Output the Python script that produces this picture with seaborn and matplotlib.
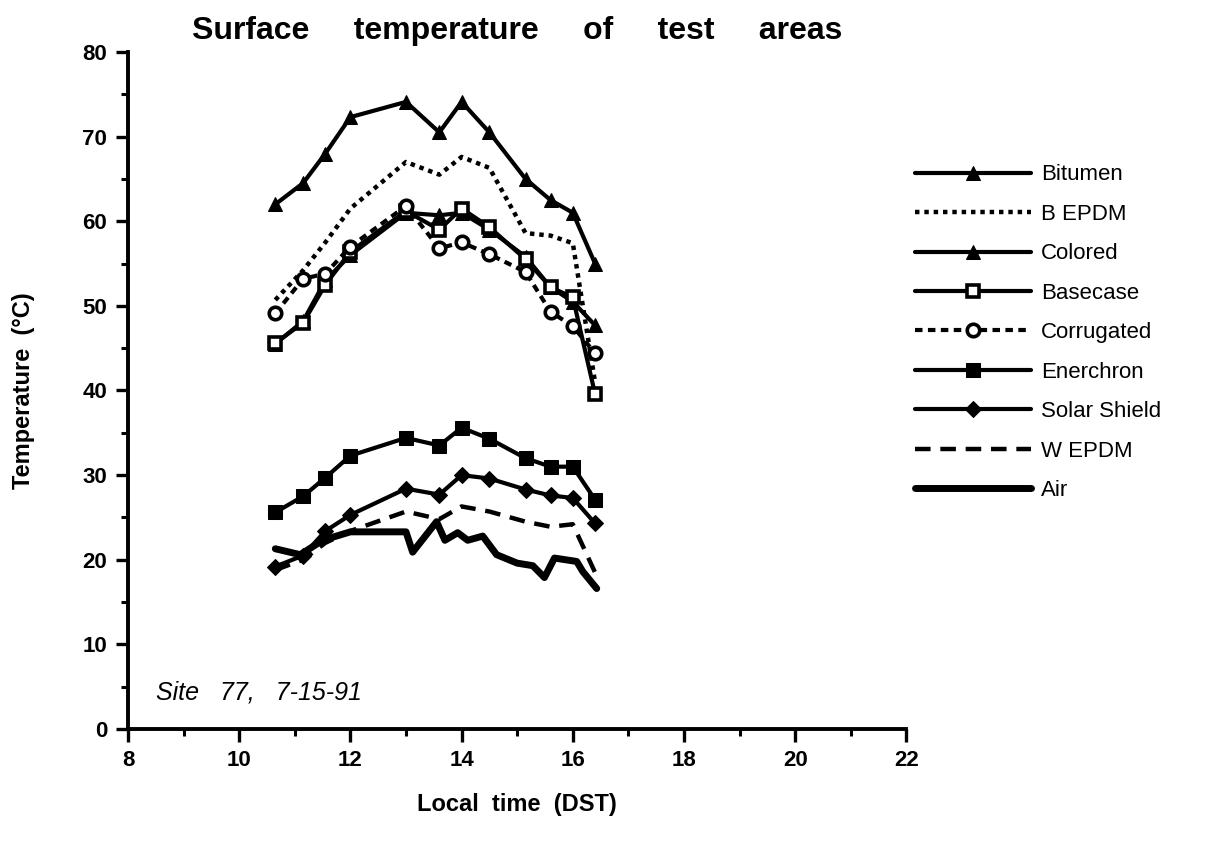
import matplotlib
matplotlib.use("Agg")
import matplotlib.pyplot as plt
import seaborn as sns
from matplotlib.ticker import MultipleLocator

sns.set_style("ticks")
plt.rcParams['font.family'] = ['Liberation Sans', 'DejaVu Sans']
plt.rcParams['text.color'] = 'black'
plt.rcParams['axes.labelcolor'] = 'black'
plt.rcParams['xtick.color'] = 'black'
plt.rcParams['ytick.color'] = 'black'
plt.rcParams['axes.edgecolor'] = 'black'

# sample times (local time, DST)
times = [10.65, 11.15, 11.55, 12.0, 13.0, 13.6, 14.0, 14.5, 15.15, 15.6, 16.0, 16.4]

bitumen = [62, 64.5, 68, 72.3, 74.1, 70.5, 74.1, 70.5, 65, 62.5, 61, 55]
b_epdm = [50.7, 54.2, 57.5, 61.5, 67, 65.5, 67.6, 66.3, 58.6, 58.3, 57.4, 41]
colored = [45.5, 48.2, 53, 56, 61, 60.7, 61, 59, 55.8, 52.2, 50.5, 47.7]
basecase = [45.6, 48, 52.5, 56.4, 61.2, 59, 61.5, 59.3, 55.5, 52.2, 51, 39.6]
corrugated = [49.1, 53.2, 53.8, 57, 61.8, 56.8, 57.5, 56.1, 54, 49.3, 47.6, 44.4]
enerchron = [25.6, 27.5, 29.7, 32.3, 34.4, 33.5, 35.6, 34.3, 32, 31, 31, 27.1]
solar_shield = [19.2, 20.5, 23.4, 25.3, 28.4, 27.7, 30, 29.6, 28.3, 27.6, 27.3, 24.3]
w_epdm = [18.8, 20, 22, 23.4, 25.7, 24.8, 26.3, 25.7, 24.5, 23.9, 24.2, 18.5]

air_times = [10.65, 11.1, 11.5, 12.0, 13.0, 13.12, 13.55, 13.7, 13.93, 14.11,
             14.38, 14.63, 15.0, 15.28, 15.49, 15.67, 16.07, 16.18, 16.43]
air = [21.3, 20.6, 22.3, 23.3, 23.3, 20.9, 24.5, 22.3, 23.2, 22.3,
       22.8, 20.6, 19.6, 19.3, 17.9, 20.2, 19.8, 18.6, 16.6]

fig = plt.figure(figsize=(12.07, 8.49), dpi=100)
ax = fig.add_axes([0.106, 0.1413, 0.645, 0.7975])

ms = 10
lw = 3
common = dict(ax=ax, color='black', estimator=None, sort=False)

sns.lineplot(x=times, y=bitumen, label='Bitumen', marker='^', markersize=ms,
             markeredgecolor='black', linewidth=lw, **common)
sns.lineplot(x=times, y=b_epdm, label='B EPDM', linestyle=(0, (1.0, 1.1)),
             linewidth=3.2, **common)
sns.lineplot(x=times, y=colored, label='Colored', marker='^', markersize=ms,
             markeredgecolor='black', linewidth=lw, **common)
sns.lineplot(x=times, y=basecase, label='Basecase', marker='s', markersize=ms - 1,
             markerfacecolor='white', markeredgecolor='black', markeredgewidth=2.6,
             linewidth=lw, **common)
sns.lineplot(x=times, y=corrugated, label='Corrugated', linestyle=(0, (1.8, 1.3)),
             marker='o', markersize=ms - 1, markerfacecolor='white',
             markeredgecolor='black', markeredgewidth=2.6, linewidth=lw, **common)
sns.lineplot(x=times, y=enerchron, label='Enerchron', marker='s', markersize=ms,
             markeredgecolor='black', linewidth=lw, **common)
sns.lineplot(x=times, y=solar_shield, label='Solar Shield', marker='D',
             markersize=ms - 2, markeredgecolor='black', linewidth=lw, **common)
sns.lineplot(x=times, y=w_epdm, label='W EPDM', linestyle=(0, (3.5, 2.2)),
             linewidth=3.2, **common)
sns.lineplot(x=air_times, y=air, label='Air', linewidth=5, **common)

ax.set_xlim(8, 22)
ax.set_ylim(0, 80)
ax.xaxis.set_major_locator(MultipleLocator(2))
ax.xaxis.set_minor_locator(MultipleLocator(1))
ax.yaxis.set_major_locator(MultipleLocator(10))
ax.yaxis.set_minor_locator(MultipleLocator(5))
ax.tick_params(which='major', direction='out', length=9, width=2.4,
               labelsize=16, pad=6)
ax.tick_params(which='minor', direction='out', length=5, width=2.2)
for lab in ax.get_xticklabels() + ax.get_yticklabels():
    lab.set_fontweight('bold')

sns.despine(ax=ax)
for side in ['left', 'bottom']:
    ax.spines[side].set_linewidth(2.8)

ax.set_title('Surface     temperature     of     test     areas', fontsize=23,
             fontweight='bold', pad=9)
ax.set_xlabel('Local  time  (DST)', fontsize=17, fontweight='bold', labelpad=16)
ax.set_ylabel('Temperature  (°C)', fontsize=17, fontweight='bold', labelpad=34)

ax.text(8.5, 4.3, 'Site   77,   7-15-91', fontsize=18, fontstyle='italic',
        va='center', ha='left')

ax.legend(loc='upper left', bbox_to_anchor=(1.0, 0.847), frameon=False,
          fontsize=16, handlelength=5.2, handletextpad=0.45, labelspacing=0.83,
          borderaxespad=0)

fig.savefig('out.png', dpi=100)
